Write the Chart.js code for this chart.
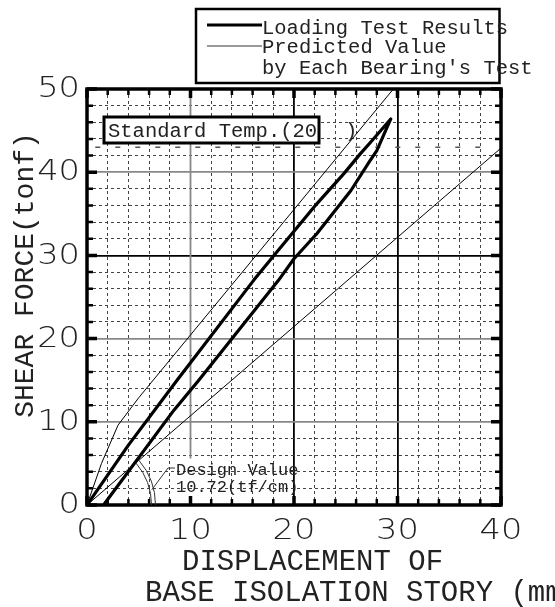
<!DOCTYPE html>
<html>
<head>
<meta charset="utf-8">
<script src="https://cdn.jsdelivr.net/npm/chart.js@4.4.0/dist/chart.umd.min.js"></script>
<style>
    html, body { margin: 0; padding: 0; background: #fff; }
    #wrap { width: 555px; height: 607px; position: relative; }
</style>
</head>
<body>
<div id="wrap"><canvas id="grafic"></canvas></div>
<script>
// Loading test loop (displacement mm, shear force tonf)
const loopDisp  = [0, 4.0, 8.7, 16.1, 18.2, 22.2, 24.8, 26.4, 27.4, 29.35, 28.0, 27.3, 25.5, 22.2, 20.0, 18.5, 10.8, 8.4, 1.6];
const loopForce = [0, 7.2, 15.0, 27.0, 30.2, 36.2, 39.8, 42.2, 43.6, 46.4, 42.6, 41.3, 37.8, 32.6, 29.6, 27.0, 15.0, 11.4, 0];

// Predicted value by each bearing's test
const predDisp  = [0, 1.4, 3.0, 5.0, 29.6];
const predForce = [0, 5.0, 9.6, 12.9, 50];

// Design value line, 10.72 tf/cm
const designDisp  = [0, 40];
const designForce = [0, 42.9];

// Long-dash reference level
const refDisp  = [0.8, 39.3];
const refForce = [43, 43];

const xTicks = [0, 10, 20, 30, 40];
const yTicks = [0, 10, 20, 30, 40, 50];

const legendLabels = ['Loading Test Results', 'Predicted Value', "by Each Bearing's Test"];
const xTitle = ['DISPLACEMENT OF', 'BASE ISOLATION STORY (mm)'];
const yTitle = 'SHEAR FORCE(tonf)';
const tempLabel = 'Standard Temp.(20';
const designLabel = ['Design Value', '10.72(tf/cm)'];

const MONO = '"Liberation Mono", "DejaVu Sans Mono", monospace';
const NUM  = '"DejaVu Sans", sans-serif';
const INK  = '#222';

const punts = (xs, ys) => xs.map((v, i) => ({ x: v, y: ys[i] }));

// Grid: dotted every 2, solid at some of the tens
function colorX(v) {
    if (v === undefined) return 'transparent';
    if (v === 0 || v === 40 || v === 10) return 'transparent';
    if (v === 20 || v === 30) return '#000';
    return '#444';
}
function colorY(v) {
    if (v === undefined) return 'transparent';
    if (v === 0 || v === 50) return 'transparent';
    if (v === 30) return '#000';
    if (v % 10 === 0) return '#888';
    return '#444';
}
const dashFor = c => (c.tick && c.tick.value % 10 === 0) ? [] : [3, 3];
const widthFor = c => (c.tick && c.tick.value % 10 === 0) ? 1.8 : 1;

function textStretch(ctx, txt, x, y, sx) {
    ctx.save();
    ctx.translate(x, y);
    ctx.scale(sx, 1);
    ctx.fillText(txt, 0, 0);
    ctx.restore();
}

const decoPlugin = {
    id: 'deco',
    beforeDatasetsDraw(chart) {
        const { ctx, scales: { x, y } } = chart;
        // gray solid line at x=10 stops above the design note
        ctx.save();
        ctx.strokeStyle = '#888';
        ctx.lineWidth = 1.8;
        ctx.beginPath();
        ctx.moveTo(x.getPixelForValue(10), y.getPixelForValue(50));
        ctx.lineTo(x.getPixelForValue(10), y.getPixelForValue(5.6));
        ctx.stroke();
        ctx.restore();
    },
    afterDatasetsDraw(chart) {
        const { ctx, chartArea: a, scales: { x, y } } = chart;
        ctx.save();

        // frame
        ctx.strokeStyle = '#000';
        ctx.lineWidth = 3.5;
        ctx.strokeRect(a.left, a.top, a.right - a.left, a.bottom - a.top);

        // inside tick marks
        ctx.lineCap = 'butt';
        for (let v = 0; v <= 40; v += 2) {
            const px = x.getPixelForValue(v);
            const big = v % 10 === 0;
            ctx.lineWidth = big ? 3.5 : 2.5;
            const len = big ? 9 : 6;
            ctx.beginPath();
            ctx.moveTo(px, a.bottom); ctx.lineTo(px, a.bottom - len);
            ctx.moveTo(px, a.top);    ctx.lineTo(px, a.top + len);
            ctx.stroke();
        }
        for (let v = 0; v <= 50; v += 2) {
            const py = y.getPixelForValue(v);
            const big = v % 10 === 0;
            ctx.lineWidth = big ? 3.5 : 2.5;
            const len = big ? 10 : 6;
            ctx.beginPath();
            ctx.moveTo(a.left, py);  ctx.lineTo(a.left + len, py);
            ctx.moveTo(a.right, py); ctx.lineTo(a.right - len, py);
            ctx.stroke();
        }

        // tick labels
        ctx.fillStyle = INK;
        ctx.font = '200 28px ' + NUM;
        ctx.textBaseline = 'middle';
        ctx.textAlign = 'right';
        yTicks.forEach(v => {
            ctx.save();
            ctx.translate(80, y.getPixelForValue(v));
            ctx.scale(1.2, 1);
            ctx.fillText(String(v), 0, 1);
            ctx.restore();
        });
        ctx.textAlign = 'center';
        xTicks.forEach(v => {
            textStretch(ctx, String(v), x.getPixelForValue(v), 532, 1.2);
        });

        // axis titles
        ctx.textBaseline = 'alphabetic';
        ctx.textAlign = 'left';
        ctx.font = '29px ' + MONO;
        ctx.fillText(xTitle[0], 182, 570);
        ctx.fillText(xTitle[1], 145, 601);
        ctx.save();
        ctx.translate(33, 275);
        ctx.rotate(-Math.PI / 2);
        ctx.textAlign = 'center';
        ctx.font = '28px ' + MONO;
        ctx.fillText(yTitle, 0, 0);
        ctx.restore();

        // legend box
        ctx.lineWidth = 2.5;
        ctx.strokeStyle = '#000';
        ctx.strokeRect(196, 9, 303.5, 74);
        ctx.lineWidth = 3;
        ctx.beginPath(); ctx.moveTo(207, 25); ctx.lineTo(262, 25); ctx.stroke();
        ctx.strokeStyle = '#777';
        ctx.lineWidth = 1.5;
        ctx.beginPath(); ctx.moveTo(207, 46); ctx.lineTo(262, 46); ctx.stroke();
        ctx.font = '20.5px ' + MONO;
        ctx.fillText(legendLabels[0], 262, 33.5);
        ctx.fillText(legendLabels[1], 262, 52.5);
        ctx.fillText(legendLabels[2], 262, 74);

        // temperature box
        ctx.fillStyle = '#fff';
        ctx.fillRect(104, 117, 215, 26);
        ctx.strokeStyle = '#000';
        ctx.lineWidth = 3;
        ctx.strokeRect(104, 117, 215, 26);
        ctx.fillStyle = INK;
        ctx.fillText(tempLabel, 108, 137);
        ctx.fillText(')', 345, 137);

        // design value arcs + note
        const x0 = x.getPixelForValue(0), y0 = y.getPixelForValue(0);
        const ang = Math.atan2(y0 - y.getPixelForValue(designForce[1]),
                               x.getPixelForValue(designDisp[1]) - x0);
        ctx.strokeStyle = '#333';
        ctx.lineWidth = 1;
        [64.5, 68.5].forEach(r => {
            ctx.beginPath();
            ctx.arc(x0, y0, r, -ang, 0);
            ctx.stroke();
        });
        ctx.beginPath();
        ctx.moveTo(x0 + 66.5 * Math.cos(0.23), y0 - 66.5 * Math.sin(0.23));
        ctx.lineTo(x0 + 81, y0 - 37);
        ctx.lineTo(x0 + 88, y0 - 37);
        ctx.stroke();
        ctx.font = '17px ' + MONO;
        ctx.fillText(designLabel[0], 176, 475);
        ctx.fillText(designLabel[1], 176, 492);

        ctx.restore();
    }
};

const lineDs = (label, data, color, width, dash) => ({
    label, data,
    showLine: true,
    borderColor: color,
    borderWidth: width,
    borderDash: dash || [],
    borderJoinStyle: 'round',
    pointRadius: 0,
    tension: 0,
    fill: false
});

new Chart(document.getElementById('grafic'), {
    type: 'scatter',
    data: {
        datasets: [
            lineDs('Loading Test Results', punts(loopDisp, loopForce), '#000', 3.2),
            lineDs('Predicted Value', punts(predDisp, predForce), '#000', 1),
            lineDs('Design Value', punts(designDisp, designForce), '#000', 1),
            lineDs('ref', punts(refDisp, refForce), '#555', 1.5, [5, 15])
        ]
    },
    options: {
        responsive: true,
        maintainAspectRatio: false,
        animation: false,
        layout: { padding: { left: 87, top: 89, right: 54, bottom: 102 } },
        plugins: { legend: { display: false }, tooltip: { enabled: false } },
        scales: {
            x: {
                type: 'linear', min: 0, max: 40,
                ticks: { stepSize: 2, display: false },
                grid: { drawTicks: false, color: c => colorX(c.tick && c.tick.value), lineWidth: widthFor },
                border: { display: false, dash: dashFor }
            },
            y: {
                type: 'linear', min: 0, max: 50,
                ticks: { stepSize: 2, display: false },
                grid: { drawTicks: false, color: c => colorY(c.tick && c.tick.value), lineWidth: widthFor },
                border: { display: false, dash: dashFor }
            }
        }
    },
    plugins: [decoPlugin]
});
</script>
</body>
</html>
